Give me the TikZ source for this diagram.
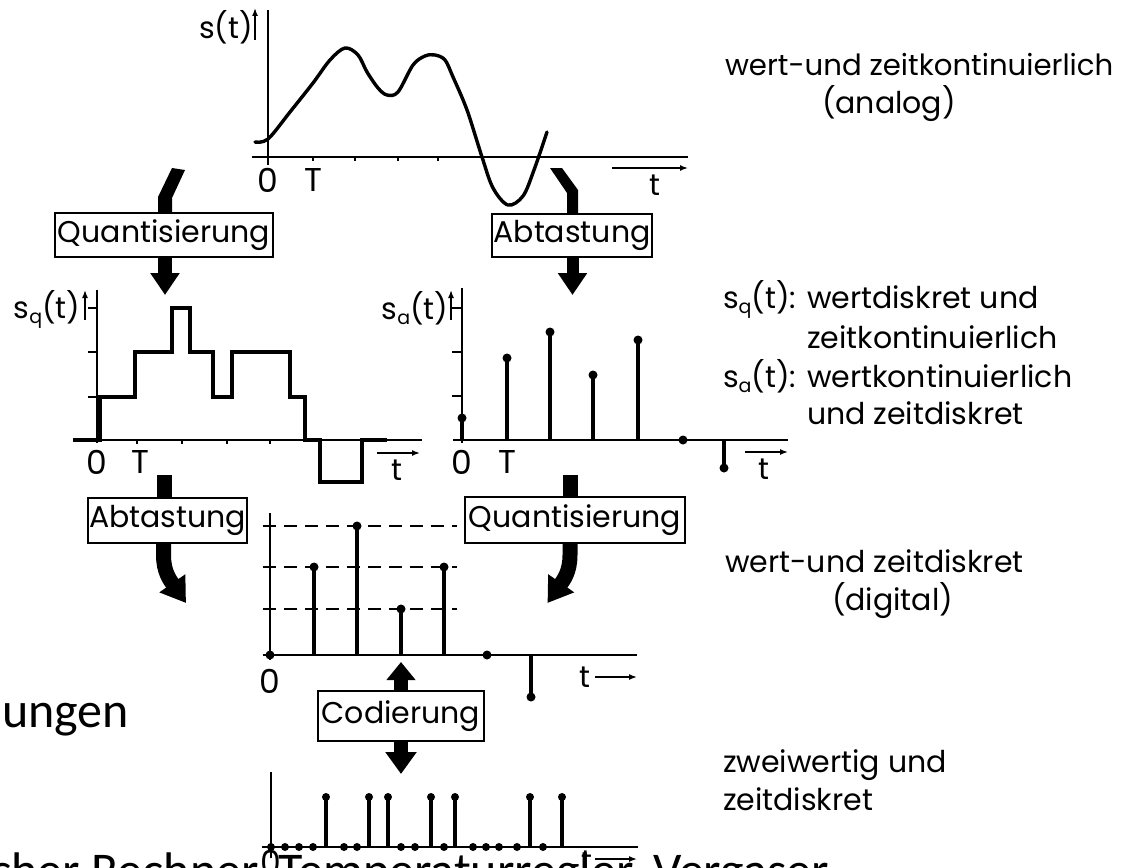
\documentclass[tikz,border=0pt]{standalone}
\usepackage{fontspec}
\setmainfont{Poppins}
\newfontfamily\slidefont{Carlito}
\usetikzlibrary{arrows.meta}
\newcommand{\lett}{\fontsize{30}{36}\selectfont}
\newcommand{\sbs}[1]{\raisebox{-5pt}{\fontsize{19}{19}\selectfont #1}}
\begin{document}
\begin{tikzpicture}[x=1pt,y=-1pt,
  every node/.style={inner sep=0pt, outer sep=0pt, font=\lett},
  txt/.style={anchor=base west},
  num/.style={font=\fontsize{33}{36}\selectfont},
  axis/.style={line width=1.5pt},
  smallarrow/.style={line width=1.5pt, -{Latex[length=8pt,width=6pt]}},
  sig/.style={line width=3.4pt, line join=round, line cap=round},
  stepsig/.style={line width=3.4pt, line join=miter},
  stem/.style={line width=3.2pt},
  dot/.style={circle, fill=black, minimum size=9pt},
  opbox/.style={draw, line width=1.6pt, minimum height=44pt},
  flow/.style={line width=14pt, -{Triangle[length=22pt,width=28pt]}},
  bentflow/.style={line width=15pt, -{Triangle[length=24pt,width=30pt]}},
  guide/.style={line width=1.5pt, dash pattern=on 13pt off 8pt},
]
\useasboundingbox (0,0) rectangle (1121,867);
\clip (0,0) rectangle (1121,867);

% ---------- operation boxes ----------
\node[opbox, minimum width=218pt] (quant1) at (164,235) {Quantisierung};
\node[opbox, minimum width=160pt, minimum height=43pt] (abt1) at (572,235.5) {Abtastung};
\node[opbox, minimum width=159pt, minimum height=45pt] (abt2) at (167.5,520.5) {Abtastung};
\node[opbox, minimum width=220pt, minimum height=46pt] (quant2) at (575,520) {Quantisierung};
\node[opbox, minimum width=166pt, minimum height=50pt] (codier) at (401,716) {Codierung};

% ---------- analog signal s(t) ----------
\draw[axis] (268,10) -- (268,165);
\draw[axis] (252,157) -- (688,157);
\foreach \x in {313,355,398,438} \draw[axis] (\x,157) -- (\x,161);
\draw[smallarrow] (255,40) -- (255,8);
\node (lblS) at (226,27) {s(t)};
\node[num] (s0) at (268,180) {0};
\node[num] (sT) at (313,180) {T};
\draw[smallarrow] (612,168) -- (688,168);
\node (st) at (655,185) {t};
\draw[sig] plot[smooth, tension=0.55] coordinates {
  (255,142) (268,139) (290,112) (313,83) (330,60) (345,48) (358,55)
  (367,72) (378,88) (387,95) (398,92) (413,65) (425,56) (435,55)
  (445,60) (453,77) (467,110) (482,157) (493,188) (508,205) (523,196)
  (534,170) (547,132)};

% ---------- quantised signal s_q(t) ----------
\draw[axis] (97,290) -- (97,443);
\draw[axis] (73,440) -- (422,440);
\foreach \y in {308,352,397} \draw[axis] (88,\y) -- (97,\y);
\foreach \x in {137,182,227,270} \draw[axis] (\x,440) -- (\x,444);
\draw[smallarrow] (85,320) -- (85,290);
\node (lblQ) at (47,309) {s\sbs{q}(t)};
\node[num] (q0) at (97,462) {0};
\node[num] (qT) at (140,462) {T};
\draw[smallarrow] (377,453) -- (420,453);
\node (qt) at (397,470) {t};
\draw[stepsig] (73,440) -- (100,440) -- (100,397) -- (135,397) -- (135,352)
  -- (172,352) -- (172,308) -- (190,308) -- (190,352) -- (213,352)
  -- (213,397) -- (232,397) -- (232,352) -- (290,352) -- (290,397)
  -- (305,397) -- (305,440) -- (320,440) -- (320,482) -- (362,482)
  -- (362,440) -- (387,440);

% ---------- sampled signal s_a(t) ----------
\draw[axis] (462,288) -- (462,443);
\draw[axis] (453,440) -- (788,440);
\foreach \y in {308,352,396} \draw[axis] (452,\y) -- (462,\y);
\draw[smallarrow] (451,320) -- (451,290);
\node (lblA) at (415,308) {s\sbs{a}(t)};
\node[num] (a0) at (462,462) {0};
\node[num] (aT) at (507,462) {T};
\draw[smallarrow] (745,452) -- (788,452);
\node (at) at (764,469) {t};
\foreach \x/\y [count=\i] in {462/418, 507/358, 550/332, 593/375, 638/340, 724/468}
  \draw[stem] (\x,440) -- (\x,\y) node[dot] (sa\i) {};
\node[dot] (sa0) at (683,440) {};

% ---------- digital signal ----------
\foreach \y in {526,567,609} \draw[guide] (263,\y) -- (457,\y);
\draw[axis] (270,513) -- (270,660);
\draw[axis] (263,655) -- (637,655);
\foreach \x/\y [count=\i] in {314/567, 357/526, 401/609, 444/567, 531/697}
  \draw[stem] (\x,655) -- (\x,\y) node[dot] (dg\i) {};
\node[dot] (dgA) at (270,655) {};
\node[dot] (dgB) at (487,655) {};
\node[num] (d0) at (270,681) {0};
\node (dt) at (585,677) {t};
\draw[smallarrow] (595,677) -- (637,677);

% ---------- binary signal ----------
\draw[axis] (271,772) -- (271,858);
\draw[axis] (262,847) -- (638,847);
\foreach \x [count=\i] in {271,285,299,313,344,357,401,415,444,473,486,499,517,543}
  \node[dot, minimum size=8pt] (bz\i) at (\x,847) {};
\foreach \x [count=\i] in {326,369,388,431,455,530,562}
  \draw[stem] (\x,847) -- (\x,797) node[dot, minimum size=8pt] (bo\i) {};

% ---------- slide text ----------
\node[txt, font=\slidefont\fontsize{50}{60}\selectfont] (sl1) at (2,727) {ungen};
\node[txt, font=\slidefont\fontsize{50}{60}\selectfont] (sl2) at (-29,887)
  {scher Rechner, Temperaturregler, Vergaser};

\node[num] (b0) at (271,862) {0};
\node (bt) at (587,861) {t};
\draw[smallarrow] (595,859) -- (637,859);

% ---------- process arrows ----------
\fill (172,168) -- (185,170) -- (172,198) -- ([xshift=8pt]quant1.north)
  -- ([xshift=-6pt]quant1.north) -- (158,197) -- cycle;
\draw[flow] ([xshift=1pt]quant1.south) -- ++(0,38);
\fill (550,168) -- (562,168) -- (578,190) -- ([xshift=6pt]abt1.north)
  -- ([xshift=-5pt]abt1.north) -- (567,193) -- cycle;
\draw[flow, line width=12pt] ([xshift=0.5pt]abt1.south) -- ++(0,38);

\fill ([xshift=-10.5pt]abt2.north) rectangle ++(15,-23);
\draw[bentflow] ([xshift=-4pt]abt2.south) -- ++(0,12)
  .. controls +(0,17) and (170,580) .. (186,603);
\fill ([xshift=-12pt]quant2.north) rectangle ++(15,-22);
\draw[bentflow] ([xshift=-5pt]quant2.south) -- ++(0,12)
  .. controls +(0,17) and (563.5,580) .. (547.5,603);

\draw[flow, -{Triangle[length=18pt,width=28pt]}] (codier.north) -- ++(0,-29);
\draw[flow, -{Triangle[length=22pt,width=30pt]}] (codier.south) -- ++(0,33);

% ---------- descriptions ----------
\node[txt, font=\fontsize{29.2}{36}\selectfont] (r1) at (725,75) {wert-und zeitkontinuierlich};
\node[txt] (r2) at (822,113) {(analog)};
\node[txt] (r3a) at (723,308) {s\sbs{q}(t):};
\node[txt] (r3) at (807,308) {wertdiskret und};
\node[txt] (r4) at (807,348) {zeitkontinuierlich};
\node[txt] (r5a) at (723,387) {s\sbs{a}(t):};
\node[txt] (r5) at (807,387) {wertkontinuierlich};
\node[txt] (r6) at (807,424) {und zeitdiskret};
\node[txt] (r7) at (725,572) {wert-und zeitdiskret};
\node[txt] (r8) at (832,610) {(digital)};
\node[txt] (r9) at (723,772) {zweiwertig und};
\node[txt] (r10) at (723,810) {zeitdiskret};
\end{tikzpicture}
\end{document}
